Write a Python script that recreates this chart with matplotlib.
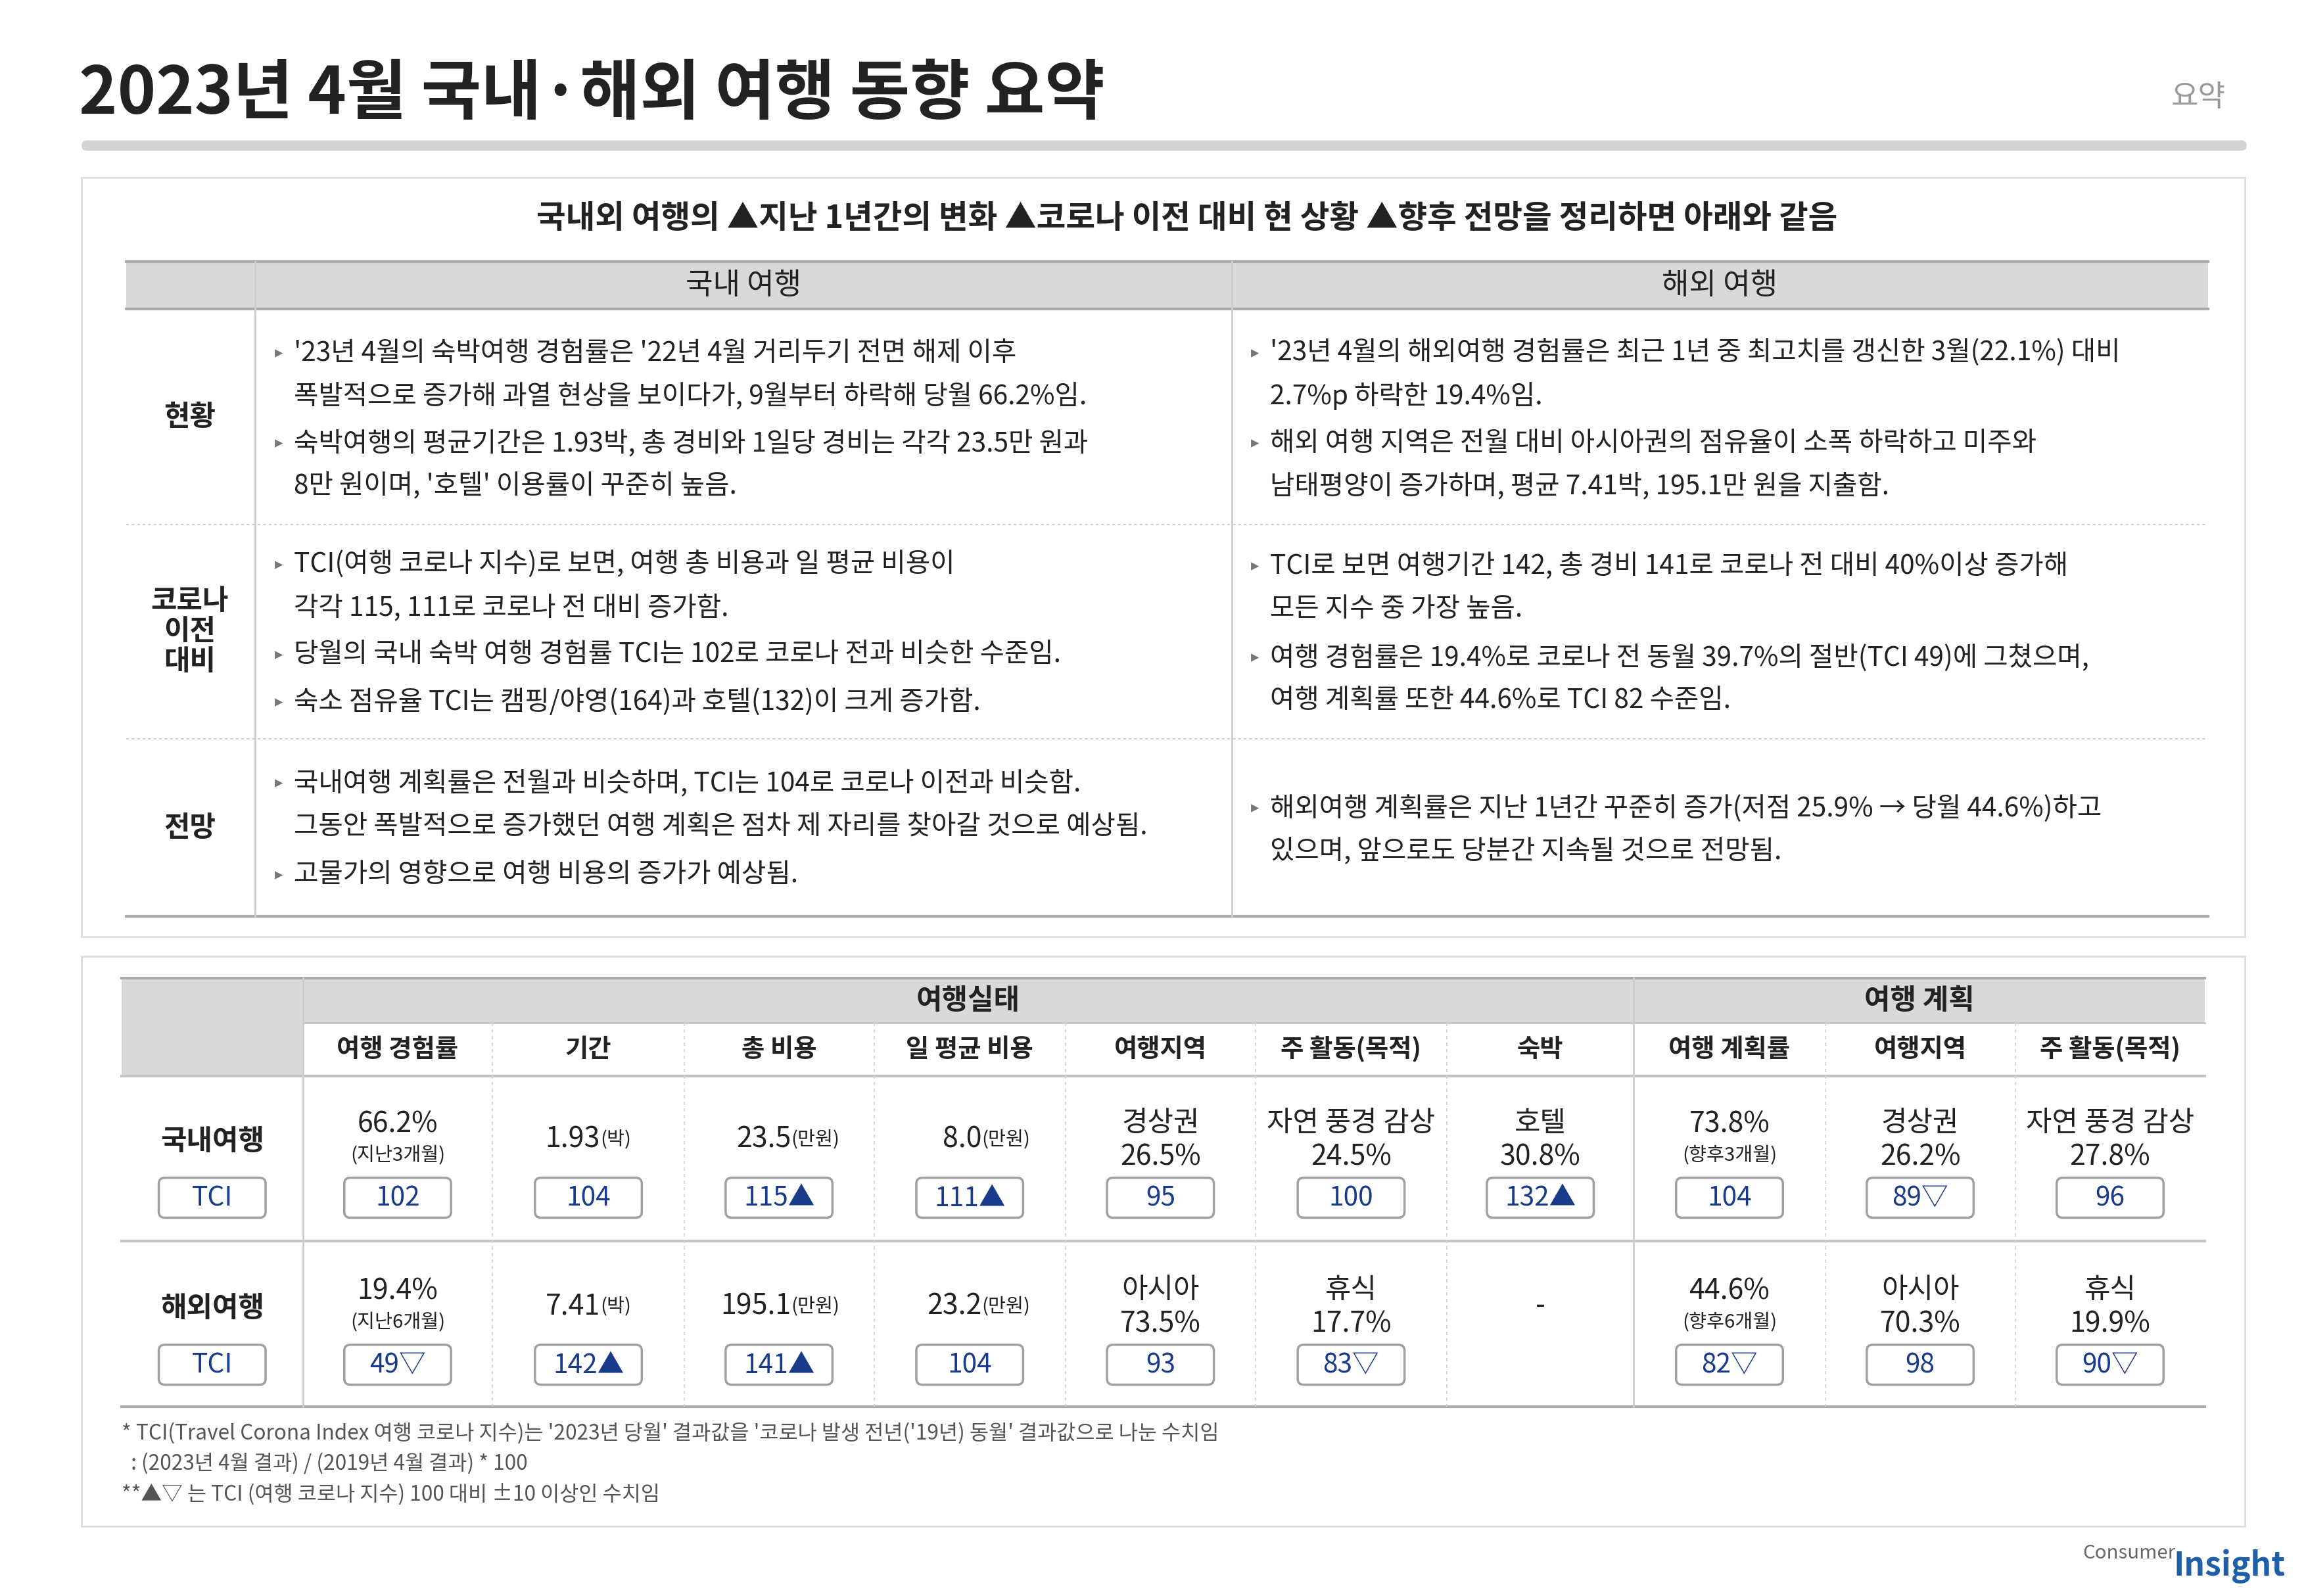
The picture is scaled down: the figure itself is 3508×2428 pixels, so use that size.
import matplotlib.pyplot as plt
from matplotlib import font_manager
from matplotlib.patches import Rectangle, FancyBboxPatch

cjk = sorted({f.name for f in font_manager.fontManager.ttflist if 'CJK' in f.name})
fam = next((n for n in cjk if 'KR' in n), cjk[0] if cjk else 'DejaVu Sans')
plt.rcParams['font.family'] = [fam, 'DejaVu Sans']

W, H = 1554, 1080
K = 3508 / W * 0.72  # display px -> pt

def fs(px):
    return px * K

# ---- data ----
title = '2023년 4월 국내·해외 여행 동향 요약'
subtitle = '국내외 여행의 ▲지난 1년간의 변화 ▲코로나 이전 대비 현 상황 ▲향후 전망을 정리하면 아래와 같음'
row_names = ['현황', '코로나\n이전\n대비', '전망']
dom_bullets = [
    ["'23년 4월의 숙박여행 경험률은 '22년 4월 거리두기 전면 해제 이후\n폭발적으로 증가해 과열 현상을 보이다가, 9월부터 하락해 당월 66.2%임.",
     "숙박여행의 평균기간은 1.93박, 총 경비와 1일당 경비는 각각 23.5만 원과\n8만 원이며, '호텔' 이용률이 꾸준히 높음."],
    ["TCI(여행 코로나 지수)로 보면, 여행 총 비용과 일 평균 비용이\n각각 115, 111로 코로나 전 대비 증가함.",
     "당월의 국내 숙박 여행 경험률 TCI는 102로 코로나 전과 비슷한 수준임.",
     "숙소 점유율 TCI는 캠핑/야영(164)과 호텔(132)이 크게 증가함."],
    ["국내여행 계획률은 전월과 비슷하며, TCI는 104로 코로나 이전과 비슷함.\n그동안 폭발적으로 증가했던 여행 계획은 점차 제 자리를 찾아갈 것으로 예상됨.",
     "고물가의 영향으로 여행 비용의 증가가 예상됨."],
]
ovs_bullets = [
    ["'23년 4월의 해외여행 경험률은 최근 1년 중 최고치를 갱신한 3월(22.1%) 대비\n2.7%p 하락한 19.4%임.",
     "해외 여행 지역은 전월 대비 아시아권의 점유율이 소폭 하락하고 미주와\n남태평양이 증가하며, 평균 7.41박, 195.1만 원을 지출함."],
    ["TCI로 보면 여행기간 142, 총 경비 141로 코로나 전 대비 40%이상 증가해\n모든 지수 중 가장 높음.",
     "여행 경험률은 19.4%로 코로나 전 동월 39.7%의 절반(TCI 49)에 그쳤으며,\n여행 계획률 또한 44.6%로 TCI 82 수준임."],
    ["해외여행 계획률은 지난 1년간 꾸준히 증가(저점 25.9% → 당월 44.6%)하고\n있으며, 앞으로도 당분간 지속될 것으로 전망됨."],
]
dom_y = [[239, 300], [382, 443, 475], [530, 592]]
ovs_y = [[239, 300], [383, 445], [547]]

group_names = ['여행실태', '여행 계획']
col_names = ['여행 경험률', '기간', '총 비용', '일 평균 비용', '여행지역', '주 활동(목적)', '숙박',
             '여행 계획률', '여행지역', '주 활동(목적)']
tbl_rows = ['국내여행', '해외여행']
# (main text, small unit/sub text, tci text)
dom_cells = [('66.2%', '(지난3개월)', '102'), ('1.93', '(박)', '104'), ('23.5', '(만원)', '115▲'),
             ('8.0', '(만원)', '111▲'), ('경상권\n26.5%', '', '95'), ('자연 풍경 감상\n24.5%', '', '100'),
             ('호텔\n30.8%', '', '132▲'), ('73.8%', '(향후3개월)', '104'), ('경상권\n26.2%', '', '89▽'),
             ('자연 풍경 감상\n27.8%', '', '96')]
ovs_cells = [('19.4%', '(지난6개월)', '49▽'), ('7.41', '(박)', '142▲'), ('195.1', '(만원)', '141▲'),
             ('23.2', '(만원)', '104'), ('아시아\n73.5%', '', '93'), ('휴식\n17.7%', '', '83▽'),
             ('-', '', None), ('44.6%', '(향후6개월)', '82▽'), ('아시아\n70.3%', '', '98'),
             ('휴식\n19.9%', '', '90▽')]
notes = ["* TCI(Travel Corona Index 여행 코로나 지수)는 '2023년 당월' 결과값을 '코로나 발생 전년('19년) 동월' 결과값으로 나눈 수치임",
         "  : (2023년 4월 결과) / (2019년 4월 결과) * 100",
         "**▲▽ 는 TCI (여행 코로나 지수) 100 대비 ±10 이상인 수치임"]

DARK = '#222222'
GRAY = '#d9d9d9'
NAVY = '#1a3a8a'

fig = plt.figure(figsize=(35.08, 24.28), dpi=100)
ax = fig.add_axes([0, 0, 1, 1])
ax.set_xlim(0, W)
ax.set_ylim(H, 0)
ax.axis('off')

# title
ax.text(53, 64, title, fontsize=fs(44), fontweight='bold', color=DARK, va='center', ha='left')
ax.text(1500, 66, '요약', fontsize=fs(20), color='#999999', va='center', ha='right')
ax.add_patch(FancyBboxPatch((55, 95), 1459, 7, boxstyle='round,pad=0,rounding_size=3.5', fc='#d3d3d3', ec='none'))

# ---- box 1 ----
ax.add_patch(Rectangle((55, 120), 1458, 514, fc='white', ec='#dddddd', lw=2))
ax.text(800, 148, subtitle, fontsize=fs(21.5), fontweight='bold', color=DARK, ha='center', va='center')
ax.add_patch(Rectangle((85, 177), 1403, 32, fc=GRAY, ec='none'))
ax.plot([85, 1488], [177, 177], color='#aaaaaa', lw=3)
ax.plot([85, 1488], [209, 209], color='#aaaaaa', lw=3)
ax.plot([85, 1488], [620, 620], color='#aaaaaa', lw=3)
ax.text(501, 193, '국내 여행', fontsize=fs(20), ha='center', va='center', color=DARK)
ax.text(1159, 193, '해외 여행', fontsize=fs(20), ha='center', va='center', color=DARK)
for x in [172, 830]:
    ax.plot([x, x], [177, 620], color='#cccccc', lw=2)
for y in [355, 500]:
    ax.plot([85, 1488], [y, y], color='#cccccc', lw=1.5, ls=(0, (2, 2)))
row_cy = [282, 427, 560]
for name, cy in zip(row_names, row_cy):
    ax.text(128, cy, name, fontsize=fs(19), fontweight='bold', ha='center', va='center',
            color=DARK, linespacing=1.05)
for xb, bullets, ys in [(185, dom_bullets, dom_y), (843, ovs_bullets, ovs_y)]:
    for blist, ylist in zip(bullets, ys):
        for txt, y in zip(blist, ylist):
            ax.text(xb, y, '▸', fontsize=fs(11), color='#777777', ha='left', va='center')
            for i, line in enumerate(txt.split('\n')):
                ax.text(xb + 13, y + 29 * i, line, fontsize=fs(18), color=DARK,
                        ha='left', va='center')

# ---- box 2 ----
ax.add_patch(Rectangle((55, 647), 1458, 386, fc='white', ec='#dddddd', lw=2))
xs = [82, 204, 332, 461, 589, 718, 846, 975, 1101, 1230, 1358, 1486]
ax.add_patch(Rectangle((82, 662), 122, 66, fc=GRAY, ec='none'))
ax.add_patch(Rectangle((204, 662), 1282, 30, fc=GRAY, ec='none'))
ax.plot([82, 1486], [662, 662], color='#aaaaaa', lw=3)
ax.plot([204, 1486], [692, 692], color='#c4c4c4', lw=2)
ax.plot([82, 1486], [728, 728], color='#c4c4c4', lw=3)
ax.plot([82, 1486], [840, 840], color='#c4c4c4', lw=3)
ax.plot([82, 1486], [952, 952], color='#aaaaaa', lw=3)
ax.plot([204, 204], [662, 952], color='#cccccc', lw=2)
ax.plot([1101, 1101], [662, 952], color='#cccccc', lw=2)
for x in xs[2:-1]:
    if x != 1101:
        ax.plot([x, x], [692, 952], color='#d0d0d0', lw=1.2, ls=(0, (3, 3)))
ax.text((204 + 1101) / 2, 677, group_names[0], fontsize=fs(19), fontweight='bold', ha='center', va='center', color=DARK)
ax.text((1101 + 1486) / 2, 677, group_names[1], fontsize=fs(19), fontweight='bold', ha='center', va='center', color=DARK)
centers = [(xs[i + 1] + xs[i + 2]) / 2 for i in range(10)]
for cx, name in zip(centers, col_names):
    ax.text(cx, 710, name, fontsize=fs(17), fontweight='bold', ha='center', va='center', color=DARK)


def tci_box(cx, cy, label):
    ax.add_patch(FancyBboxPatch((cx - 36, cy - 13), 72, 27, boxstyle='round,pad=0,rounding_size=4',
                                fc='white', ec='#a0a0a0', lw=2.5))
    ax.text(cx, cy + 1, label, fontsize=fs(18), color=NAVY, ha='center', va='center')


for rname, cells, base in zip(tbl_rows, [dom_cells, ovs_cells], [760, 873]):
    ax.text(143, base + 12, rname, fontsize=fs(19), fontweight='bold', ha='center', va='center', color=DARK)
    tci_box(143, base + 50, 'TCI')
    for cx, (main, sub, tci) in zip(centers, cells):
        if '\n' in main:
            a, b = main.split('\n')
            ax.text(cx, base, a, fontsize=fs(19), ha='center', va='center', color=DARK)
            ax.text(cx, base + 23, b, fontsize=fs(19), ha='center', va='center', color=DARK)
        elif sub.startswith('(지') or sub.startswith('(향'):
            ax.text(cx, base + 1, main, fontsize=fs(19), ha='center', va='center', color=DARK)
            ax.text(cx, base + 22, sub, fontsize=fs(13), ha='center', va='center', color=DARK)
        elif sub:
            ax.text(cx + 8, base + 11, main, fontsize=fs(19), ha='right', va='center', color=DARK)
            ax.text(cx + 8, base + 11, sub, fontsize=fs(13), ha='left', va='center', color=DARK)
        else:
            ax.text(cx, base + 11, main, fontsize=fs(19), ha='center', va='center', color=DARK)
        if tci:
            tci_box(cx, base + 50, tci)

for y, t in zip([970, 990, 1011], notes):
    ax.text(82, y, t, fontsize=fs(14), color='#555555', ha='left', va='center')

ax.text(1466, 1051, 'Consumer', fontsize=fs(13), color='#666666', ha='right', va='center')
ax.text(1540, 1060, 'Insight', fontsize=fs(22), color='#1f5fa8', fontweight='bold', ha='right', va='center')

fig.savefig('out.png', dpi=100)
